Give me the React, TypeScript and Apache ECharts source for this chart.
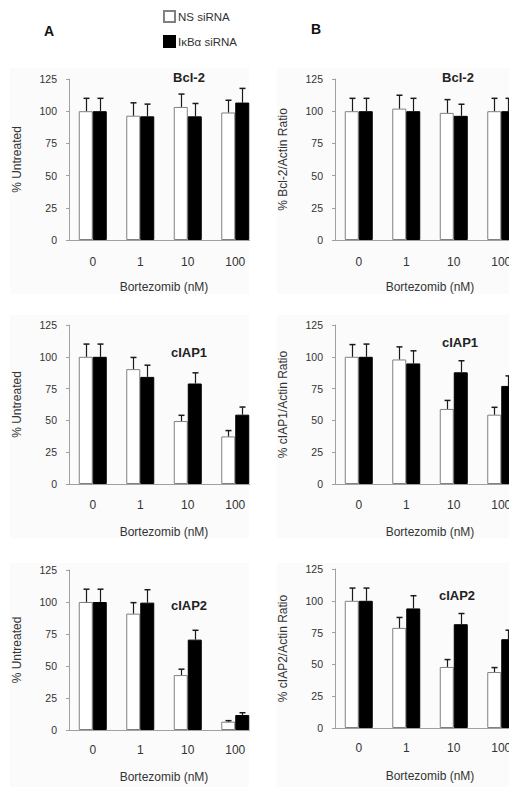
import React, { useEffect, useRef } from "react";
import * as echarts from "echarts";

const categories = ["0", "1", "10", "100"];
const legendNames = ["NS siRNA", "IκBα siRNA"];

// Panel A (% Untreated)
const bcl2A_ns = [100, 96.5, 103.3, 99];
const bcl2A_nsErr = [10, 10, 10, 9.5];
const bcl2A_ikb = [100, 96, 96, 106.7];
const bcl2A_ikbErr = [10, 9.5, 10, 11];

const ciap1A_ns = [100, 90.3, 49.5, 37.4];
const ciap1A_nsErr = [10, 9.2, 4.5, 4.6];
const ciap1A_ikb = [100, 84.2, 79, 54.5];
const ciap1A_ikbErr = [10, 9.2, 8.4, 6];

const ciap2A_ns = [100, 90.9, 42.9, 6.5];
const ciap2A_nsErr = [10, 8.6, 4.6, 0.8];
const ciap2A_ikb = [100, 99.5, 70.6, 11.7];
const ciap2A_ikbErr = [10, 10.1, 7.3, 1.8];

// Panel B (% protein/Actin ratio)
const bcl2B_ns = [100, 102, 98.7, 100];
const bcl2B_nsErr = [10, 10.4, 10.3, 10];
const bcl2B_ikb = [100, 100, 96.4, 100];
const bcl2B_ikbErr = [10, 10, 9, 10];

const ciap1B_ns = [100, 97.9, 59, 54.5];
const ciap1B_nsErr = [9.6, 9.9, 6.7, 5.8];
const ciap1B_ikb = [100, 94.8, 87.8, 77.1];
const ciap1B_ikbErr = [10, 9.9, 9.1, 7.9];

const ciap2B_ns = [100, 78.7, 48, 44];
const ciap2B_nsErr = [10, 8.2, 5.8, 3.5];
const ciap2B_ikb = [100, 94, 81.6, 69.8];
const ciap2B_ikbErr = [10, 10, 8.4, 7.1];

const yTicks = { min: 0, max: 125, interval: 25 };
const xAxisTitle = "Bortezomib (nM)";

const FONT = "'Liberation Sans', Arial, Helvetica, sans-serif";
const BAR_W = 14;

const panels = [
  { title: "Bcl-2", yName: "% Untreated", ns: bcl2A_ns, nsErr: bcl2A_nsErr, ikb: bcl2A_ikb, ikbErr: bcl2A_ikbErr,
    grid: { left: 69, top: 79, width: 190, height: 161 }, titlePos: [189, 77], nameGap: 41, labelMargin: 16 },
  { title: "Bcl-2", yName: "% Bcl-2/Actin Ratio", ns: bcl2B_ns, nsErr: bcl2B_nsErr, ikb: bcl2B_ikb, ikbErr: bcl2B_ikbErr,
    grid: { left: 335, top: 79, width: 190, height: 161 }, titlePos: [458, 77], nameGap: 41, labelMargin: 16 },
  { title: "cIAP1", yName: "% Untreated", ns: ciap1A_ns, nsErr: ciap1A_nsErr, ikb: ciap1A_ikb, ikbErr: ciap1A_ikbErr,
    grid: { left: 69, top: 325, width: 190, height: 159 }, titlePos: [189, 352], nameGap: 42, labelMargin: 15 },
  { title: "cIAP1", yName: "% cIAP1/Actin Ratio", ns: ciap1B_ns, nsErr: ciap1B_nsErr, ikb: ciap1B_ikb, ikbErr: ciap1B_ikbErr,
    grid: { left: 335, top: 325, width: 190, height: 159 }, titlePos: [460, 342], nameGap: 42, labelMargin: 15 },
  { title: "cIAP2", yName: "% Untreated", ns: ciap2A_ns, nsErr: ciap2A_nsErr, ikb: ciap2A_ikb, ikbErr: ciap2A_ikbErr,
    grid: { left: 69, top: 570, width: 190, height: 160 }, titlePos: [189, 605], nameGap: 41, labelMargin: 14 },
  { title: "cIAP2", yName: "% cIAP2/Actin Ratio", ns: ciap2B_ns, nsErr: ciap2B_nsErr, ikb: ciap2B_ikb, ikbErr: ciap2B_ikbErr,
    grid: { left: 335, top: 569, width: 190, height: 159 }, titlePos: [457, 595], nameGap: 42, labelMargin: 14 },
];

function errorRenderer(side: number) {
  return (params: any, api: any) => {
    const i = api.value(0);
    const base = api.coord([i, api.value(1)]);
    const top = api.coord([i, api.value(2)]);
    const x = Math.round(base[0] + side * (BAR_W / 2)) + 0.5;
    return {
      type: "group",
      children: [
        { type: "line", shape: { x1: x, y1: base[1], x2: x, y2: top[1] }, style: { stroke: "#1a1a1a", lineWidth: 1.2 } },
        { type: "line", shape: { x1: x - 3, y1: top[1], x2: x + 3, y2: top[1] }, style: { stroke: "#1a1a1a", lineWidth: 1.5 } },
      ],
    };
  };
}

export default function App() {
  const ref = useRef<HTMLDivElement>(null);
  useEffect(() => {
    if (!ref.current) return;
    const chart = echarts.init(ref.current, undefined, { renderer: "svg" });

    const grids: any[] = [];
    const xAxes: any[] = [];
    const yAxes: any[] = [];
    const series: any[] = [];
    const graphics: any[] = [];

    // faint panel backgrounds
    const bgRows = [[68, 226], [315, 223], [563, 224]];
    bgRows.forEach(([y, h]) => {
      graphics.push({ type: "rect", z: -10, silent: true, shape: { x: 10, y, width: 239, height: h }, style: { fill: "#fbfbfb" } });
      graphics.push({ type: "rect", z: -10, silent: true, shape: { x: 277, y, width: 260, height: h }, style: { fill: "#fbfbfb" } });
    });

    panels.forEach((p, k) => {
      grids.push({ ...p.grid, containLabel: false });
      xAxes.push({
        type: "category",
        gridIndex: k,
        data: categories,
        name: xAxisTitle,
        nameLocation: "middle",
        nameGap: p.nameGap,
        nameTextStyle: { fontSize: 12, color: "#333", fontFamily: FONT },
        axisLine: { show: true, lineStyle: { color: "#a0a0a0", width: 1 } },
        axisTick: { show: false },
        axisLabel: { fontSize: 12, color: "#333", fontFamily: FONT, margin: p.labelMargin },
        splitLine: { show: false },
      });
      yAxes.push({
        type: "value",
        gridIndex: k,
        min: yTicks.min,
        max: yTicks.max,
        interval: yTicks.interval,
        name: p.yName,
        nameLocation: "middle",
        nameGap: 46,
        nameTextStyle: { fontSize: 12, color: "#333", fontFamily: FONT },
        axisLine: { show: true, lineStyle: { color: "#a0a0a0", width: 1 } },
        axisTick: { show: true, length: 3, lineStyle: { color: "#a0a0a0" } },
        axisLabel: { fontSize: 10.5, color: "#333", fontFamily: FONT, margin: 12 },
        splitLine: { show: false },
      });
      series.push({
        type: "bar",
        name: legendNames[0],
        xAxisIndex: k,
        yAxisIndex: k,
        data: p.ns,
        barWidth: BAR_W,
        barGap: "0%",
        itemStyle: { color: "#ffffff", borderColor: "#808080", borderWidth: 1 },
        z: 2,
      });
      series.push({
        type: "bar",
        name: legendNames[1],
        xAxisIndex: k,
        yAxisIndex: k,
        data: p.ikb,
        barWidth: BAR_W,
        barGap: "0%",
        itemStyle: { color: "#000000", borderColor: "#000000", borderWidth: 1 },
        z: 2,
      });
      series.push({
        type: "custom",
        name: legendNames[0] + " err",
        xAxisIndex: k,
        yAxisIndex: k,
        data: p.ns.map((v, i) => [i, v, v + p.nsErr[i]]),
        encode: { x: 0, y: [1, 2] },
        renderItem: errorRenderer(-1),
        z: 5,
      });
      series.push({
        type: "custom",
        name: legendNames[1] + " err",
        xAxisIndex: k,
        yAxisIndex: k,
        data: p.ikb.map((v, i) => [i, v, v + p.ikbErr[i]]),
        encode: { x: 0, y: [1, 2] },
        renderItem: errorRenderer(1),
        z: 5,
      });
      graphics.push({
        type: "text",
        x: p.titlePos[0],
        y: p.titlePos[1],
        z: 10,
        style: { text: p.title, fontSize: 13, fontWeight: "bold", fill: "#222", fontFamily: FONT,
          align: "center", verticalAlign: "middle", textAlign: "center", textVerticalAlign: "middle" },
      });
    });

    // crop of panel A at its right edge
    graphics.push({ type: "rect", z: 50, silent: true, shape: { x: 250, y: 60, width: 14, height: 727 }, style: { fill: "#ffffff" } });

    // panel letters
    graphics.push({ type: "text", x: 49, y: 31, z: 10, style: { text: "A", fontSize: 14, fontWeight: "bold", fill: "#111", fontFamily: FONT,
      align: "center", verticalAlign: "middle", textAlign: "center", textVerticalAlign: "middle" } });
    graphics.push({ type: "text", x: 316, y: 29, z: 10, style: { text: "B", fontSize: 14, fontWeight: "bold", fill: "#111", fontFamily: FONT,
      align: "center", verticalAlign: "middle", textAlign: "center", textVerticalAlign: "middle" } });

    chart.setOption({
      animation: false,
      backgroundColor: "#ffffff",
      legend: {
        data: legendNames.map((n) => ({ name: n, icon: "rect" })),
        orient: "vertical",
        left: 163,
        top: 10,
        padding: 0,
        itemWidth: 11,
        itemHeight: 11,
        itemGap: 12,
        textStyle: { fontSize: 11.5, color: "#333", fontFamily: FONT, padding: [0, 0, 0, -2] },
        selectedMode: false,
      },
      grid: grids,
      xAxis: xAxes,
      yAxis: yAxes,
      series,
      graphic: graphics,
    });
    return () => chart.dispose();
  }, []);
  return (
    <div style={{ position: "absolute", left: 0, top: 0, width: 509, height: 787, overflow: "hidden", background: "#fff" }}>
      <div ref={ref} style={{ width: 545, height: 787 }} />
    </div>
  );
}
